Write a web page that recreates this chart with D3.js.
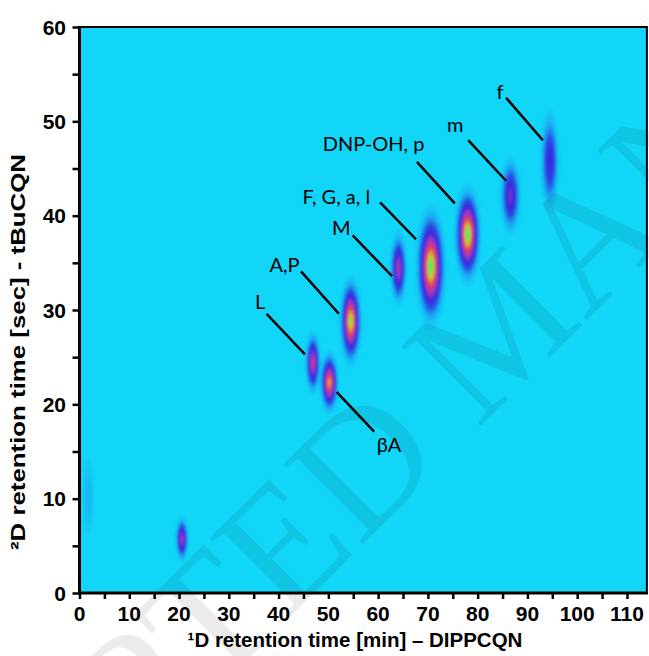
<!DOCTYPE html>
<html>
<head>
<meta charset="utf-8">
<script src="https://cdn.jsdelivr.net/npm/d3@7"></script>
<style>
  body { margin: 0; background: #fff; }
  svg { display: block; }
</style>
</head>
<body>
<svg id="chart" width="649" height="656"></svg>
<script>
// GC×GC peaks: first-dimension retention (min), second-dimension retention (sec)
const peakRt1    = [1.8, 20.6, 46.9, 50.2, 54.5, 64.1, 70.6, 78.0, 86.6, 94.5];
const peakRt2    = [10.2, 5.7, 24.4, 22.3, 28.8, 34.4, 34.6, 38.0, 42.1, 45.8];
const peakHeight = [0.055, 0.48, 0.58, 0.82, 0.95, 0.50, 1.00, 1.00, 0.38, 0.30];
const peakSd1    = [0.70, 0.53, 0.60, 0.70, 0.81, 0.68, 1.10, 0.98, 0.85, 0.80];
const peakSd2    = [2.50, 0.95, 1.28, 1.23, 1.72, 1.55, 2.30, 1.89, 1.68, 2.28];

// Peak annotations: text, text anchor (min, sec), leader line start/end (min, sec)
const labelText = ["L", "A,P", "βA", "M", "F, G, a, l", "DNP-OH, p", "m", "f"];
const labelAt   = [[36.3, 30.1], [41.2, 34.0], [62.2, 15.0], [52.6, 37.9],
                   [51.6, 41.2], [59.1, 46.9], [75.5, 48.9], [84.5, 52.4]];
const leaderFrom = [[37.6, 29.6], [44.5, 34.1], [51.7, 21.3], [54.9, 37.9],
                    [60.4, 41.4], [67.8, 45.7], [78.1, 48.0], [85.7, 52.5]];
const leaderTo   = [[45.3, 25.3], [52.1, 29.6], [59.2, 17.1], [62.8, 33.6],
                    [67.6, 37.5], [75.4, 41.3], [85.7, 43.7], [93.1, 48.0]];

const xTicks = d3.range(0, 111, 10);
const yTicks = d3.range(0, 61, 10);
const xMinor = d3.range(0, 111, 5);
const yMinor = d3.range(0, 61, 5);

const colorStops = [0, 0.06, 0.16, 0.28, 0.42, 0.56, 0.68, 0.80, 0.90, 1.0];
const colorRange = ["#12d6f7", "#18b2f3", "#2a52e6", "#3a2adc", "#8a38d0",
                    "#c83a98", "#e0405a", "#d8a038", "#b8d040", "#30f080"];

const svg = d3.select("#chart");

const x = d3.scaleLinear().domain([0, 114]).range([79.5, 79.5 + 114 * 4.977]);
const y = d3.scaleLinear().domain([0, 60]).range([593, 27]);
const color = d3.scaleLinear().domain(colorStops).range(colorRange)
  .interpolate(d3.interpolateRgb).clamp(true);

// ---- intensity surface ----
const stepX = 0.2, stepY = 0.12;
const nx = Math.round(114 / stepX) + 1;
const ny = Math.round(60 / stepY) + 1;
const values = new Float64Array(nx * ny);
for (let j = 0; j < ny; j++) {
  const yv = j * stepY;
  for (let i = 0; i < nx; i++) {
    const xv = i * stepX;
    let s = 0;
    for (let k = 0; k < peakRt1.length; k++) {
      const dx = (xv - peakRt1[k]) / peakSd1[k];
      const dy = (yv - peakRt2[k]) / peakSd2[k];
      const e = dx * dx + dy * dy;
      if (e < 40) s += peakHeight[k] * Math.exp(-0.5 * e);
    }
    values[j * nx + i] = s;
  }
}

const thresholds = d3.range(0.015, 1.0, 0.0125);
const contours = d3.contours().size([nx, ny]).thresholds(thresholds)(values);
const path = d3.geoPath(d3.geoTransform({
  point(px, py) { this.stream.point(x((px - 0.5) * stepX), y((py - 0.5) * stepY)); }
}));

const defs = svg.append("defs");
defs.append("clipPath").attr("id", "plotClip")
  .append("rect")
  .attr("x", x(0)).attr("y", y(60))
  .attr("width", x(114) - x(0)).attr("height", y(0) - y(60));
defs.append("filter").attr("id", "soft")
  .attr("x", "-5%").attr("y", "-5%").attr("width", "110%").attr("height", "110%")
  .append("feGaussianBlur").attr("stdDeviation", 0.8);

const plot = svg.append("g").attr("clip-path", "url(#plotClip)");
plot.append("rect")
  .attr("x", x(0)).attr("y", y(60))
  .attr("width", x(114) - x(0)).attr("height", y(0) - y(60))
  .attr("fill", color(0));
plot.append("g").attr("filter", "url(#soft)")
  .selectAll("path")
  .data(contours)
  .join("path")
  .attr("d", path)
  .attr("fill", d => color(d.value + 0.00625));

// ---- frame & axes ----
svg.append("rect")
  .attr("x", x(0)).attr("y", y(60))
  .attr("width", x(114) - x(0)).attr("height", y(0) - y(60))
  .attr("fill", "none").attr("stroke", "#000").attr("stroke-width", 2);

const xAxis = svg.append("g").attr("transform", `translate(0,${y(0)})`)
  .call(d3.axisBottom(x).tickValues(xMinor).tickSize(6).tickFormat(""));
const yAxis = svg.append("g").attr("transform", `translate(${x(0)},0)`)
  .call(d3.axisLeft(y).tickValues(yMinor).tickSize(7).tickFormat(""));
[xAxis, yAxis].forEach(g => {
  g.select(".domain").attr("stroke", "#000").attr("stroke-width", 3);
  g.selectAll(".tick line").attr("stroke", "#000").attr("stroke-width", 2.5);
});
xAxis.select(".domain").attr("d", `M${x(0) - 1.5},0H${x(114) + 1}`);
yAxis.select(".domain").attr("d", `M0,${y(0) + 1.5}V${y(60) - 1}`);

const tickFont = "'Liberation Sans', Arial, sans-serif";
svg.append("g").selectAll("text").data(xTicks).join("text")
  .attr("x", d => x(d)).attr("y", 620.5)
  .attr("text-anchor", "middle")
  .attr("font-family", tickFont).attr("font-weight", "bold").attr("font-size", 21)
  .text(d => d);
svg.append("g").selectAll("text").data(yTicks).join("text")
  .attr("x", 66).attr("y", d => y(d) + 7.5)
  .attr("text-anchor", "end")
  .attr("font-family", tickFont).attr("font-weight", "bold").attr("font-size", 21)
  .text(d => d);

svg.append("text")
  .attr("x", 355).attr("y", 647)
  .attr("text-anchor", "middle")
  .attr("font-family", tickFont).attr("font-weight", "bold").attr("font-size", 20.5)
  .text("¹D retention time [min] – DIPPCQN");
svg.append("text")
  .attr("transform", "translate(25,352) rotate(-90)")
  .attr("text-anchor", "middle")
  .attr("font-family", tickFont).attr("font-weight", "bold").attr("font-size", 20)
  .attr("textLength", 396).attr("lengthAdjust", "spacingAndGlyphs")
  .text("²D retention time [sec] - tBuCQN");

// ---- peak annotations ----
svg.append("g").selectAll("line").data(labelText).join("line")
  .attr("x1", (d, i) => x(leaderFrom[i][0])).attr("y1", (d, i) => y(leaderFrom[i][1]))
  .attr("x2", (d, i) => x(leaderTo[i][0])).attr("y2", (d, i) => y(leaderTo[i][1]))
  .attr("stroke", "#000").attr("stroke-width", 2.5);
svg.append("g").selectAll("text").data(labelText).join("text")
  .attr("x", (d, i) => x(labelAt[i][0])).attr("y", (d, i) => y(labelAt[i][1]))
  .attr("text-anchor", "middle")
  .attr("font-family", "Lato, 'Open Sans', sans-serif").attr("font-size", 20)
  .text(d => d);

// ---- watermark ----
svg.append("text")
  .attr("transform", "translate(499,326) rotate(-45)")
  .attr("text-anchor", "middle")
  .attr("dominant-baseline", "central")
  .attr("font-family", "'Liberation Serif', 'Times New Roman', serif")
  .attr("font-size", 172)
  .attr("fill", "#000").attr("fill-opacity", 0.08)
  .text("ACCEPTED MANUSCRIPT");
</script>
</body>
</html>
